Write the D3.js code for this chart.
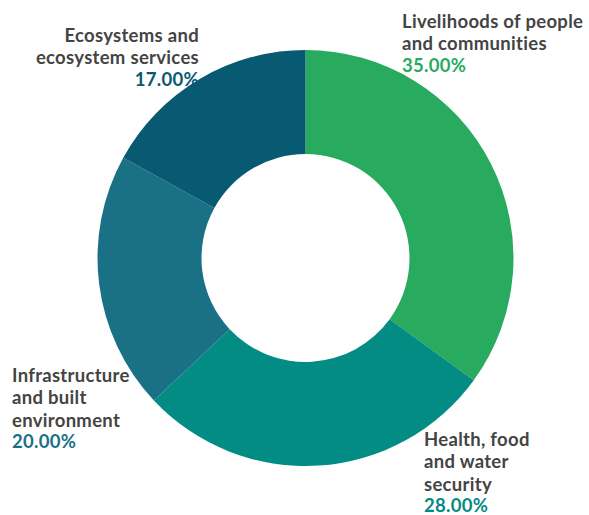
<!DOCTYPE html>
<html>
<head>
<meta charset="utf-8">
<script src="https://cdn.jsdelivr.net/npm/d3@7"></script>
<style>
  body { margin: 0; background: #fff; }
  text { font-family: Lato, "Open Sans", sans-serif; font-weight: 700; letter-spacing: 0.3px; }
</style>
</head>
<body>
<svg id="chart" width="589" height="515"></svg>
<script>
    // slices, clockwise from 12 o'clock
    var categories = ["Livelihoods of people and communities", "Health, food and water security",
                      "Infrastructure and built environment", "Ecosystems and ecosystem services"],
        values     = [35, 28, 20, 17],
        colors     = ["#28aa5f", "#028c83", "#1a7186", "#075a71"],
        labelLines = [["Livelihoods of people", "and communities"],
                      ["Health, food", "and water", "security"],
                      ["Infrastructure", "and built", "environment"],
                      ["Ecosystems and", "ecosystem services"]];

    var cx = 305.5, cy = 258,
        outerR = 208, innerR = 104,
        lineH = 22.3,
        textColor = "#444444";

    // label anchor: x, first baseline, alignment
    var labelPos = [
        { x: 402, y: 28,  anchor: "start" },
        { x: 424, y: 446, anchor: "start" },
        { x: 12,  y: 382, anchor: "start" },
        { x: 199, y: 42,  anchor: "end" }
    ];

    var svg = d3.select("#chart");

    var pie = d3.pie().sort(null).value(function(d) { return d; });
    var arc = d3.arc().innerRadius(innerR).outerRadius(outerR);

    var g = svg.append("g").attr("transform", "translate(" + cx + "," + cy + ")");

    g.selectAll("path")
        .data(pie(values))
        .enter().append("path")
        .attr("d", arc)
        .style("fill", function(d, i) { return colors[i]; })
        ;

    var labels = svg.selectAll("g.label")
        .data(categories)
        .enter().append("g")
        .attr("class", "label");

    labels.each(function(d, i) {
        var lg = d3.select(this),
            p = labelPos[i],
            lines = labelLines[i];

        var t = lg.append("text")
            .attr("x", p.x)
            .attr("y", p.y)
            .attr("text-anchor", p.anchor)
            .style("font-size", "18.5px");

        lines.forEach(function(line, j) {
            t.append("tspan")
                .attr("x", p.x)
                .attr("y", p.y + j * lineH)
                .style("fill", textColor)
                .text(line);
        });
        t.append("tspan")
            .attr("x", p.x)
            .attr("y", p.y + lines.length * lineH - 1)
            .style("fill", colors[i])
            .text(d3.format(".2f")(values[i]) + "%");
    }); // each label
</script>
</body>
</html>
